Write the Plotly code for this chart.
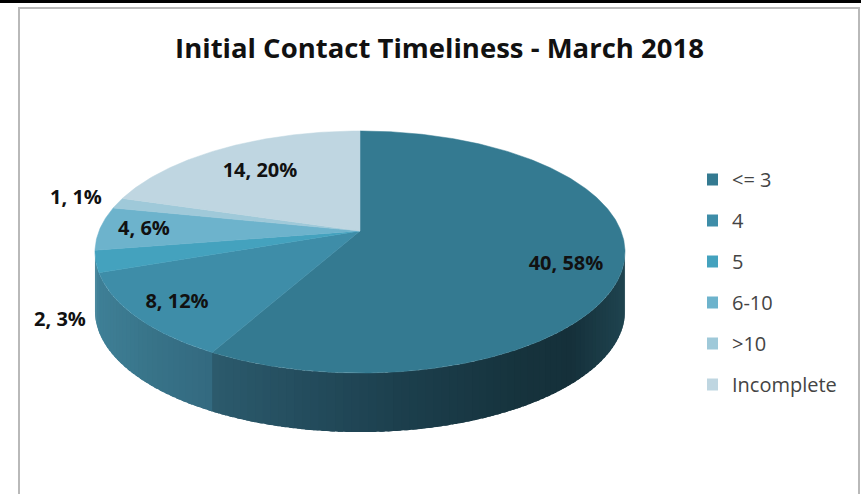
import math
import plotly.graph_objects as go

# ---- data ----
categories = ["<= 3", "4", "5", "6-10", ">10", "Incomplete"]
values = [40, 8, 2, 4, 1, 14]
percents = [58, 12, 3, 6, 1, 20]
title_text = "Initial Contact Timeliness - March 2018"

# ---- styles / layout ----
top_colors = ["#347A91", "#3E8DA8", "#44A2BE", "#6DB3CC", "#9FC9D9", "#BFD6E1"]
side_stops = [
    [(212, "#2c5b6d"), (300, "#244d5e"), (400, "#1c3f4d"), (520, "#16333d"), (570, "#15303a"), (626, "#1f4450")],
    [(95, "#3f8097"), (150, "#387489"), (215, "#33697f")],
    [(90, "#3f8097"), (110, "#3f8097")],
    [(90, "#4a93ad"), (110, "#4a93ad")],
    [(90, "#7fb4c7"), (110, "#7fb4c7")],
    [(90, "#9fc0cf"), (110, "#9fc0cf")],
]
label_pos = [(566, 265), (177, 303), (60, 321), (144, 230), (76, 199), (260, 172)]
CX, CY, RX, RY, K, DEPTH = 360, 231, 261, 117.4, 0.1736, 59
SIDE_START, SIDE_END = 100, 260
FONT = "Open Sans"


def project(theta, drop=0):
    t = math.radians(theta)
    u, v = math.sin(t), -math.cos(t)
    s = 1 / (1 - K * v)
    return CX + RX * u * s, CY + RY * v * s + drop


def sweep(a0, a1, step=0.5):
    n = max(2, int(abs(a1 - a0) / step))
    return [a0 + (a1 - a0) * i / n for i in range(n + 1)]


def hex_rgb(c):
    return tuple(int(c[i:i + 2], 16) for i in (1, 3, 5))


def grad(stops, x):
    if x <= stops[0][0]:
        return stops[0][1]
    for (x0, c0), (x1, c1) in zip(stops, stops[1:]):
        if x <= x1:
            f = (x - x0) / (x1 - x0)
            a, b = hex_rgb(c0), hex_rgb(c1)
            return "#%02x%02x%02x" % tuple(round(p + (q - p) * f) for p, q in zip(a, b))
    return stops[-1][1]


total = sum(values)
edges = [0]
for val in values:
    edges.append(edges[-1] + val / total * 360)

fig = go.Figure()

# side wall: overlapping strips painted in order, so no seams show
for i in range(len(values)):
    a0, a1 = max(edges[i], SIDE_START), min(edges[i + 1], SIDE_END)
    if a1 <= a0:
        continue
    n = max(1, int((a1 - a0) / 1.5))
    for j in range(n):
        s0 = a0 + (a1 - a0) * j / n
        s1 = a0 + (a1 - a0) * (j + 1) / n
        s_end = min(s1 + 1.0, SIDE_END)
        arc = [project(a) for a in sweep(s0, s_end)]
        low = [project(a, DEPTH) for a in sweep(s_end, s0)]
        pts = arc + low
        col = grad(side_stops[i], project((s0 + s1) / 2)[0])
        fig.add_trace(go.Scatter(
            x=[p[0] for p in pts], y=[p[1] for p in pts], mode="none",
            fill="toself", fillcolor=col,
            showlegend=False, hoverinfo="skip"))

# top face
for i, name in enumerate(categories):
    pts = [(CX, CY)] + [project(a) for a in sweep(edges[i], edges[i + 1])]
    pts.append(pts[0])
    fig.add_trace(go.Scatter(
        x=[p[0] for p in pts], y=[p[1] for p in pts], mode="lines",
        fill="toself", fillcolor=top_colors[i], line=dict(color=top_colors[i], width=0.5),
        name=name, legendgroup=name, showlegend=False, hoverinfo="skip"))

# legend entries
for i, name in enumerate(categories):
    fig.add_trace(go.Scatter(
        x=[None], y=[None], mode="markers", name=name, legendgroup=name,
        marker=dict(symbol="square", size=12, color=top_colors[i])))

# data labels
fig.add_trace(go.Scatter(
    x=[p[0] for p in label_pos], y=[p[1] for p in label_pos], mode="text",
    text=[f"{v}, {p}%" for v, p in zip(values, percents)],
    textposition="middle center",
    textfont=dict(family=FONT, size=20, color="#111111", weight="bold"),
    showlegend=False, hoverinfo="skip"))

fig.update_layout(
    width=861, height=494, autosize=False,
    margin=dict(l=0, r=0, t=0, b=0),
    paper_bgcolor="white", plot_bgcolor="white",
    title=dict(text=title_text, x=439.5 / 861, y=1 - 48 / 494, xanchor="center", yanchor="middle",
               font=dict(family=FONT, size=27.5, color="#111111", weight="bold")),
    xaxis=dict(range=[0, 861], visible=False, fixedrange=True),
    yaxis=dict(range=[494, 0], visible=False, fixedrange=True),
    legend=dict(x=707 / 861, y=1 - 160 / 494, xanchor="left", yanchor="top",
                tracegroupgap=12, indentation=-15, itemclick=False, itemdoubleclick=False,
                bgcolor="rgba(0,0,0,0)",
                font=dict(family=FONT, size=20, color="#444444")),
    shapes=[
        dict(type="rect", x0=19, y0=8, x1=859, y1=530, line=dict(color="#b9b9b9", width=2), layer="below"),
        dict(type="rect", x0=0, y0=0, x1=861, y1=3, fillcolor="#000000", line=dict(width=0), layer="above"),
    ],
)
fig.write_html("out.html", config=dict(displayModeBar=False),
               post_script="document.body.style.margin='0';document.body.style.overflow='hidden';")
